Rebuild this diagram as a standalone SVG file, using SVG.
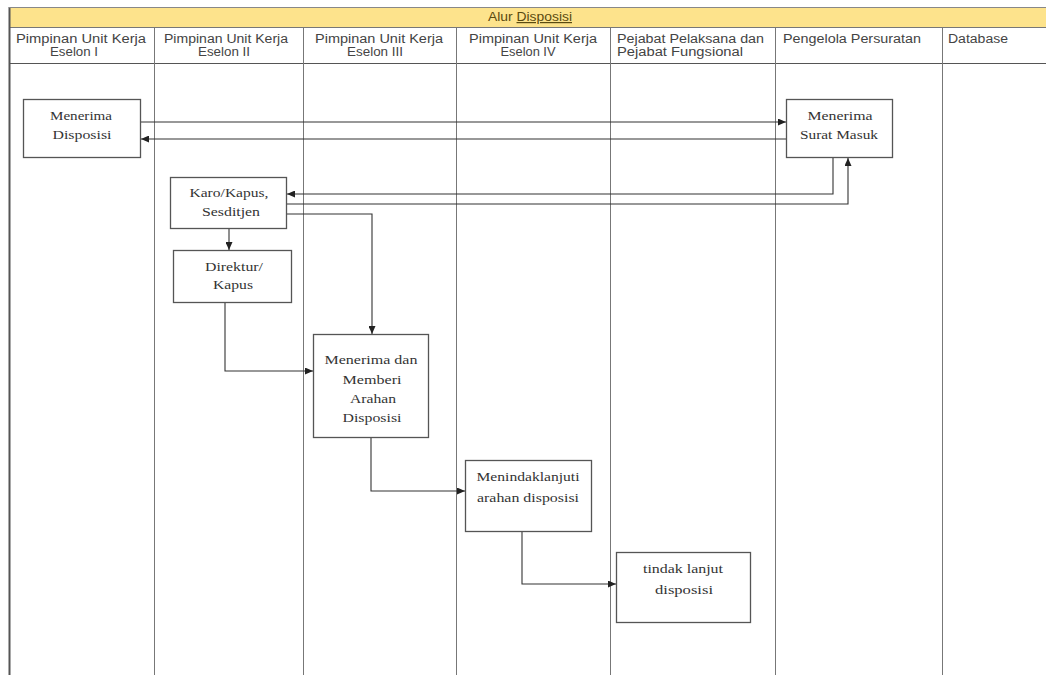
<svg xmlns="http://www.w3.org/2000/svg" width="1046" height="675" viewBox="0 0 1046 675">
<style>
.hdr{font-family:"Liberation Sans",Arial,sans-serif;font-size:12px;fill:#444}
.nt{font-family:"Liberation Serif","Times New Roman",serif;font-size:13px;fill:#333;text-anchor:middle}
.box{fill:#fff;stroke:#555;stroke-width:1.3}
.lane{stroke:#777;stroke-width:1;fill:none}
.con{stroke:#333;stroke-width:1.1;fill:none;marker-end:url(#arr)}
</style>
<defs>
<marker id="arr" markerWidth="8" markerHeight="7" refX="8" refY="3.5" orient="auto" markerUnits="userSpaceOnUse">
<path d="M0,0 L8,3.5 L0,7 z" fill="#222"/>
</marker>
</defs>
<rect width="1046" height="675" fill="#fff"/>
<g id="pool">
<rect x="9.5" y="7.5" width="1045" height="680" fill="#fff" stroke="#888" stroke-width="1"/>
<rect x="10" y="8" width="1040" height="19" fill="#fde38c"/>
<line x1="9" y1="27.5" x2="1046" y2="27.5" stroke="#777"/>
<line x1="9" y1="63.5" x2="1046" y2="63.5" stroke="#555"/>
<line x1="9.5" y1="7" x2="9.5" y2="675" stroke="#555" stroke-width="2"/>
<line x1="9" y1="7.5" x2="1046" y2="7.5" stroke="#888"/>
<text class="hdr" x="530" y="21" text-anchor="middle" textLength="84" lengthAdjust="spacingAndGlyphs" style="fill:#5a4a10">Alur <tspan text-decoration="underline">Disposisi</tspan></text>
</g>
<g id="lanes">
<line class="lane" x1="154.5" y1="27" x2="154.5" y2="675"/>
<line class="lane" x1="303.5" y1="27" x2="303.5" y2="675"/>
<line class="lane" x1="456.5" y1="27" x2="456.5" y2="675"/>
<line class="lane" x1="610.5" y1="27" x2="610.5" y2="675"/>
<line class="lane" x1="775.5" y1="27" x2="775.5" y2="675"/>
<line class="lane" x1="942.5" y1="27" x2="942.5" y2="675"/>
</g>
<g id="lane-headers">
<text class="hdr" x="81" y="43" text-anchor="middle" textLength="130" lengthAdjust="spacingAndGlyphs">Pimpinan Unit Kerja</text>
<text class="hdr" x="74" y="56" text-anchor="middle" textLength="48" lengthAdjust="spacingAndGlyphs">Eselon I</text>
<text class="hdr" x="226" y="43" text-anchor="middle" textLength="124" lengthAdjust="spacingAndGlyphs">Pimpinan Unit Kerja</text>
<text class="hdr" x="224" y="56" text-anchor="middle" textLength="52" lengthAdjust="spacingAndGlyphs">Eselon II</text>
<text class="hdr" x="379" y="43" text-anchor="middle" textLength="128" lengthAdjust="spacingAndGlyphs">Pimpinan Unit Kerja</text>
<text class="hdr" x="375" y="56" text-anchor="middle" textLength="56" lengthAdjust="spacingAndGlyphs">Eselon III</text>
<text class="hdr" x="533" y="43" text-anchor="middle" textLength="128" lengthAdjust="spacingAndGlyphs">Pimpinan Unit Kerja</text>
<text class="hdr" x="528" y="56" text-anchor="middle" textLength="55" lengthAdjust="spacingAndGlyphs">Eselon IV</text>
<text class="hdr" x="617" y="43" textLength="147" lengthAdjust="spacingAndGlyphs">Pejabat Pelaksana dan</text>
<text class="hdr" x="617" y="56" textLength="126" lengthAdjust="spacingAndGlyphs">Pejabat Fungsional</text>
<text class="hdr" x="783" y="43" textLength="138" lengthAdjust="spacingAndGlyphs">Pengelola Persuratan</text>
<text class="hdr" x="948" y="43" textLength="60" lengthAdjust="spacingAndGlyphs">Database</text>
</g>
<g id="connectors">
<path class="con" d="M141,122 H786"/>
<path class="con" d="M786,139 H141"/>
<path class="con" d="M833,158 V194 H287"/>
<path class="con" d="M287,204 H848 V158"/>
<path class="con" d="M287,214 H372 V334"/>
<path class="con" d="M229,229 V250"/>
<path class="con" d="M225,303 V371 H313"/>
<path class="con" d="M371,438 V491 H465"/>
<path class="con" d="M522,532 V584 H616"/>
</g>
<g id="menerima-disposisi">
<rect class="box" x="23.5" y="99.5" width="117" height="58"/>
<text class="nt" x="81" y="120" textLength="62" lengthAdjust="spacingAndGlyphs">Menerima</text>
<text class="nt" x="82" y="139" textLength="59" lengthAdjust="spacingAndGlyphs">Disposisi</text>
</g>
<g id="menerima-surat-masuk">
<rect class="box" x="786.5" y="99.5" width="106" height="58"/>
<text class="nt" x="840" y="120" textLength="65" lengthAdjust="spacingAndGlyphs">Menerima</text>
<text class="nt" x="839" y="139" textLength="78" lengthAdjust="spacingAndGlyphs">Surat Masuk</text>
</g>
<g id="karo-kapus">
<rect class="box" x="170.5" y="177.5" width="116" height="51"/>
<text class="nt" x="229" y="197" textLength="79" lengthAdjust="spacingAndGlyphs">Karo/Kapus,</text>
<text class="nt" x="231" y="216" textLength="58" lengthAdjust="spacingAndGlyphs">Sesditjen</text>
</g>
<g id="direktur-kapus">
<rect class="box" x="173.5" y="250.5" width="118" height="52"/>
<text class="nt" x="234" y="271" textLength="58" lengthAdjust="spacingAndGlyphs">Direktur/</text>
<text class="nt" x="233" y="289" textLength="40" lengthAdjust="spacingAndGlyphs">Kapus</text>
</g>
<g id="menerima-memberi-arahan">
<rect class="box" x="313.5" y="334.5" width="115" height="103"/>
<text class="nt" x="371" y="364" textLength="93" lengthAdjust="spacingAndGlyphs">Menerima dan</text>
<text class="nt" x="372" y="384" textLength="59" lengthAdjust="spacingAndGlyphs">Memberi</text>
<text class="nt" x="373" y="403" textLength="46" lengthAdjust="spacingAndGlyphs">Arahan</text>
<text class="nt" x="372" y="422" textLength="59" lengthAdjust="spacingAndGlyphs">Disposisi</text>
</g>
<g id="menindaklanjuti">
<rect class="box" x="465.5" y="460.5" width="126" height="71"/>
<text class="nt" x="528" y="481" textLength="103" lengthAdjust="spacingAndGlyphs">Menindaklanjuti</text>
<text class="nt" x="528" y="502" textLength="102" lengthAdjust="spacingAndGlyphs">arahan disposisi</text>
</g>
<g id="tindak-lanjut">
<rect class="box" x="616.5" y="552.5" width="134" height="70"/>
<text class="nt" x="683" y="573" textLength="80" lengthAdjust="spacingAndGlyphs">tindak lanjut</text>
<text class="nt" x="684" y="594" textLength="58" lengthAdjust="spacingAndGlyphs">disposisi</text>
</g>
</svg>
